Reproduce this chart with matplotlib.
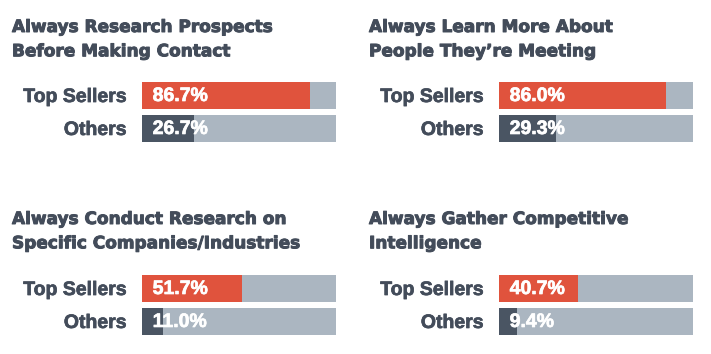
import matplotlib.pyplot as plt
import matplotlib.patheffects as pe

# data
titles = ["Always Research Prospects\nBefore Making Contact",
          "Always Learn More About\nPeople They\u2019re Meeting",
          "Always Conduct Research on\nSpecific Companies/Industries",
          "Always Gather Competitive\nIntelligence"]
groups = ["Top Sellers", "Others"]
top_sellers = [86.7, 86.0, 51.7, 40.7]
others = [26.7, 29.3, 11.0, 9.4]

red = "#e0533d"
dark = "#4a5563"
grey = "#abb6c1"
txt = "#434c5a"

W, H = 711, 354
fig = plt.figure(figsize=(W / 100, H / 100), dpi=100)

# panel layout in pixels: (bar left, bar top, title x, title top)
panels = [(142, 82, 12, 18), (499, 82, 369, 18),
          (142, 275, 12, 210), (499, 275, 369, 210)]
bar_w, bar_h = 194, 60

for i, (bx, by, tx, ty) in enumerate(panels):
    ax = fig.add_axes([bx / W, 1 - (by + bar_h) / H, bar_w / W, bar_h / H])
    vals = [top_sellers[i], others[i]]
    pos = [0, 1]
    ax.barh(pos, [100, 100], height=0.82, color=grey, edgecolor="none")
    ax.barh(pos, vals, height=0.82, color=[red, dark], edgecolor="none")
    for p, v in zip(pos, vals):
        ax.text(5.5, p + 0.03, f"{v:.1f}%", color="white", fontsize=14,
                fontweight="bold", ha="left", va="center",
                family="Liberation Sans",
                path_effects=[pe.withStroke(linewidth=0.5, foreground="white")])
    ax.set_xlim(0, 100)
    ax.set_ylim(1.41, -0.41)
    ax.set_yticks(pos)
    ax.set_yticklabels(groups, fontsize=14, color=txt,
                       family="Liberation Sans", fontweight="bold")
    for lab in ax.get_yticklabels():
        lab.set_path_effects([pe.withStroke(linewidth=0.5, foreground=txt)])
    ax.tick_params(axis="y", length=0, pad=11)
    ax.set_xticks([])
    for s in ax.spines.values():
        s.set_visible(False)
    fig.text(tx / W, 1 - ty / H, titles[i], fontsize=12.2, color=txt,
             fontweight="bold", family="DejaVu Sans", ha="left", va="top",
             linespacing=1.45,
             path_effects=[pe.withStroke(linewidth=0.7, foreground=txt)])

fig.savefig("out.png", dpi=100, facecolor="white")
